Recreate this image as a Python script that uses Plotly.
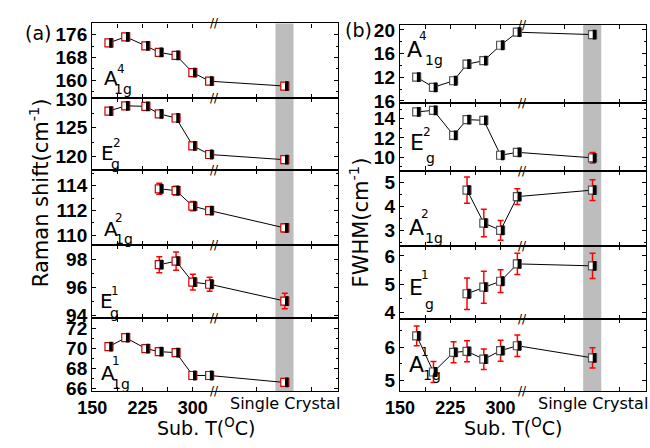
import plotly.graph_objects as go

W, H = 650, 448

# ---------------- data ----------------
TEMPS = [175, 200, 230, 250, 275, 300, 325]
SC_POS = 437          # where the single-crystal point sits on the broken axis
X_ALL = TEMPS + [SC_POS]

# (a) Raman shift (last value = single crystal)
SHIFT_A1G4 = [173.2, 175.3, 172.1, 169.8, 168.8, 162.7, 159.7, 158.0]
SHIFT_A1G4_ERR = [1.0, 1.0, 1.0, 1.0, 1.0, 1.0, 1.0, 1.0]
SHIFT_EG2 = [127.9, 128.8, 128.7, 127.4, 126.7, 121.9, 120.4, 119.5]
SHIFT_EG2_ERR = [0.5, 0.5, 0.5, 0.5, 0.5, 0.5, 0.5, 0.5]
SHIFT_A1G2 = [None, None, None, 113.75, 113.6, 112.35, 112.0, 110.6]
SHIFT_A1G2_ERR = [None, None, None, 0.44, 0.36, 0.37, 0.3, 0.33]
SHIFT_EG1 = [None, None, None, 97.6, 97.85, 96.35, 96.2, 95.0]
SHIFT_EG1_ERR = [None, None, None, 0.57, 0.65, 0.56, 0.5, 0.56]
SHIFT_A1G1 = [70.2, 71.1, 70.0, 69.7, 69.6, 67.3, 67.3, 66.6]
SHIFT_A1G1_ERR = [0.35, 0.35, 0.35, 0.35, 0.35, 0.35, 0.35, 0.35]

# (b) FWHM
FWHM_A1G4 = [12.0, 10.3, 11.4, 14.2, 14.8, 17.4, 19.6, 19.2]
FWHM_A1G4_ERR = [0.4, 0.4, 0.4, 0.4, 0.4, 0.4, 0.4, 0.4]
FWHM_EG2 = [14.7, 14.87, 12.27, 13.9, 13.83, 10.2, 10.5, 9.93]
FWHM_EG2_ERR = [0.3, 0.3, 0.3, 0.3, 0.3, 0.3, 0.3, 0.55]
FWHM_A1G2 = [None, None, None, 4.67, 3.3, 3.0, 4.4, 4.67]
FWHM_A1G2_ERR = [None, None, None, 0.55, 0.57, 0.41, 0.33, 0.43]
FWHM_EG1 = [None, None, None, 4.67, 4.9, 5.11, 5.72, 5.65]
FWHM_EG1_ERR = [None, None, None, 0.55, 0.56, 0.4, 0.37, 0.44]
FWHM_A1G1 = [6.35, 5.25, 5.85, 5.88, 5.64, 5.9, 6.05, 5.68]
FWHM_A1G1_ERR = [0.3, 0.32, 0.32, 0.32, 0.31, 0.32, 0.33, 0.31]

# y tick values / labels per sub-panel
SHIFT_TICKS = [[160, 168, 176], [120, 125, 130], [110, 112, 114], [94, 96, 98], [66, 68, 70, 72]]
SHIFT_TICKTEXT = [["160", "168", "176"], ["120", "125", "130"], ["110", "112", "114"],
                  ["94", "96", "98"], ["66", "68", "70", "72"]]
FWHM_TICKS = [[8, 12, 16, 20], [10, 12, 14], [3, 4, 5], [4, 5, 6], [5, 6]]
FWHM_TICKTEXT = [["16", "12", "16", "20"], ["10", "12", "14"], ["3", "4", "5"],
                 ["4", "5", "6"], ["5", "6"]]
X_TICKS = [150, 187.5, 225, 262.5, 300, 395, 477]
X_TICKTEXT = ["150", "", "225", "", "300", "", ""]

# mode labels: (letter, superscript, subscript)
MODES = [("A", "4", "1g"), ("E", "2", "g"), ("A", "2", "1g"), ("E", "1", "g"), ("A", "1", "1g")]

# ---------------- geometry (pixels) ----------------
X_RANGE = [150, 516.8]
BAND = (423, 450)
BREAK_X = 333
COLS = [(79, 331), (394, 646)]
ROWS = [[15, 92.5, 167.5, 245, 321, 397.5], [16.5, 98, 168, 246, 322, 397.5]]
Y_RANGES = [
    [[153.8, 180], [117.7, 130.15], [109.25, 115.25], [93.8, 99.03], [65.7, 73.1]],
    [[7.6, 20.84], [8.6, 15.6], [2.36, 5.48], [3.79, 6.36], [4.66, 6.87]],
]
Y_MINOR = [[4, 2.5, 1, 1, 1], [2, 1, 0.5, 0.5, 0.5]]
LABEL_POS = [
    [[(98, 72), (108, 62), (111, 83)], [(95, 150), (104, 139), (103, 161)],
     [(98, 229), (106, 217), (112, 239)], [(94, 304), (102, 293), (102, 316)],
     [(95, 378), (103, 366), (109, 390)]],
    [[(409, 42), (418, 28), (429, 53)], [(411, 139), (422, 128), (425, 155)],
     [(411, 227), (420, 213), (429, 238)], [(410, 290), (420, 277), (424, 307)],
     [(411, 370), (420, 357), (427, 380)]],
]

DATA = [
    [(SHIFT_A1G4, SHIFT_A1G4_ERR), (SHIFT_EG2, SHIFT_EG2_ERR), (SHIFT_A1G2, SHIFT_A1G2_ERR),
     (SHIFT_EG1, SHIFT_EG1_ERR), (SHIFT_A1G1, SHIFT_A1G1_ERR)],
    [(FWHM_A1G4, FWHM_A1G4_ERR), (FWHM_EG2, FWHM_EG2_ERR), (FWHM_A1G2, FWHM_A1G2_ERR),
     (FWHM_EG1, FWHM_EG1_ERR), (FWHM_A1G1, FWHM_A1G1_ERR)],
]
TICKS = [(SHIFT_TICKS, SHIFT_TICKTEXT), (FWHM_TICKS, FWHM_TICKTEXT)]


def fx(p):
    return p / W


def fy(p):
    return 1 - p / H


TICKFONT = dict(family="Liberation Sans, Arial", size=19, color="black")
TXT = "DejaVu Sans"
BLACK_SHIFT = 2.9   # half-filled marker: black half drawn slightly right


def note(x, y, text, size, xref="paper", yref="paper", angle=0, family=TXT):
    return dict(xref=xref, yref=yref, x=x, y=y, text=text, showarrow=False,
                xanchor="center", yanchor="middle", textangle=angle,
                font=dict(family=family, size=size, color="black"))


fig = go.Figure()
layout = dict(
    width=W, height=H, margin=dict(l=0, r=0, t=0, b=0, pad=0),
    paper_bgcolor="white", plot_bgcolor="rgba(0,0,0,0)", showlegend=False,
)
shapes, annotations = [], []

k = 0
for c in range(2):
    outline = "#d00000" if c == 0 else "#555555"
    for r in range(5):
        k += 1
        xa = "x" if k == 1 else f"x{k}"
        ya = "y" if k == 1 else f"y{k}"
        xkey = "xaxis" if k == 1 else f"xaxis{k}"
        ykey = "yaxis" if k == 1 else f"yaxis{k}"
        vals, errs = DATA[c][r]
        xs = [x for x, v in zip(X_ALL, vals) if v is not None]
        ys = [v for v in vals if v is not None]
        es = [e for v, e in zip(vals, errs) if v is not None]

        fig.add_trace(go.Scatter(
            x=xs, y=ys, xaxis=xa, yaxis=ya, mode="lines+markers",
            line=dict(color="black", width=1),
            marker=dict(symbol="square", size=8, color="white",
                        line=dict(color=outline, width=1.2)),
            error_y=dict(type="data", array=es, color="red", thickness=1.5, width=3),
        ))
        fig.add_trace(go.Scatter(
            x=[x + BLACK_SHIFT for x in xs], y=ys, xaxis=xa, yaxis=ya, mode="markers",
            marker=dict(symbol="line-ns", size=7, line=dict(color="black", width=3.5)),
        ))

        top, bot = ROWS[c][r], ROWS[c][r + 1]
        bottom_row = r == 4
        layout[xkey] = dict(
            domain=[fx(COLS[c][0]), fx(COLS[c][1])], anchor=ya, range=X_RANGE,
            tickmode="array", tickvals=X_TICKS,
            ticktext=[f"<b>{t}</b>" if t else "" for t in X_TICKTEXT],
            showticklabels=bottom_row,
            tickfont=dict(family="Liberation Sans, Arial", size=18, color="black"),
            ticks="inside", ticklen=4, tickwidth=1, tickcolor="black",
            showline=True, linecolor="black", linewidth=1.3, mirror="ticks",
            showgrid=False, zeroline=False,
        )
        tv, tt = TICKS[c]
        yr = Y_RANGES[c][r]
        step = Y_MINOR[c][r]
        minor_vals = []
        v = tv[r][0] - step * 10
        while v <= yr[1]:
            if v >= yr[0] and all(abs(v - m) > 1e-6 for m in tv[r]):
                minor_vals.append(round(v, 4))
            v += step
        layout[ykey] = dict(
            domain=[fy(bot), fy(top)], anchor=xa, range=yr,
            tickmode="array", tickvals=tv[r], ticktext=[f"<b>{t}</b>" for t in tt[r]],
            tickfont=TICKFONT, ticks="inside", ticklen=4, tickwidth=1, tickcolor="black",
            minor=dict(tickmode="array", tickvals=minor_vals, ticks="inside", ticklen=2,
                       tickcolor="black"),
            showline=True, linecolor="black", linewidth=1.3, mirror="ticks",
            showgrid=False, zeroline=False,
        )
        # grey single-crystal band
        shapes.append(dict(type="rect", xref=xa, yref=f"{ya} domain", x0=BAND[0], x1=BAND[1],
                           y0=0, y1=1, fillcolor="#bdbdbd", line=dict(width=0), layer="below"))
        # axis-break marks
        for yy in ([0, 1] if bottom_row else [1]):
            annotations.append(note(BREAK_X, yy, "//", 12, xref=xa, yref=f"{ya} domain"))
        # mode label
        (lx, ly), (sx, sy), (bx, by) = LABEL_POS[c][r]
        big = 20 if c == 0 else 22
        letter, sup, sub = MODES[r]
        annotations.append(note(fx(lx), fy(ly), letter, big))
        annotations.append(note(fx(sx), fy(sy), sup, 12))
        annotations.append(note(fx(bx), fy(by), sub, 14))
        if bottom_row:
            annotations.append(note(SC_POS, fy(410), "Single Crystal", 16, xref=xa))

# titles
annotations += [
    note(fx(24), fy(191), "Raman shift(cm<sup>-1</sup>)", 21, angle=-90),
    note(fx(352), fy(222), "FWHM(cm<sup>-1</sup>)", 21, angle=-90),
    note(fx(196), fy(434), "Sub. T(<sup>O</sup>C)", 19),
    note(fx(510), fy(434), "Sub. T(<sup>O</sup>C)", 19),
    note(fx(24), fy(25), "(a)", 19),
    note(fx(352), fy(22), "(b)", 19),
]
layout["shapes"] = shapes
layout["annotations"] = annotations
fig.update_layout(**layout)
fig.write_html("out.html")
